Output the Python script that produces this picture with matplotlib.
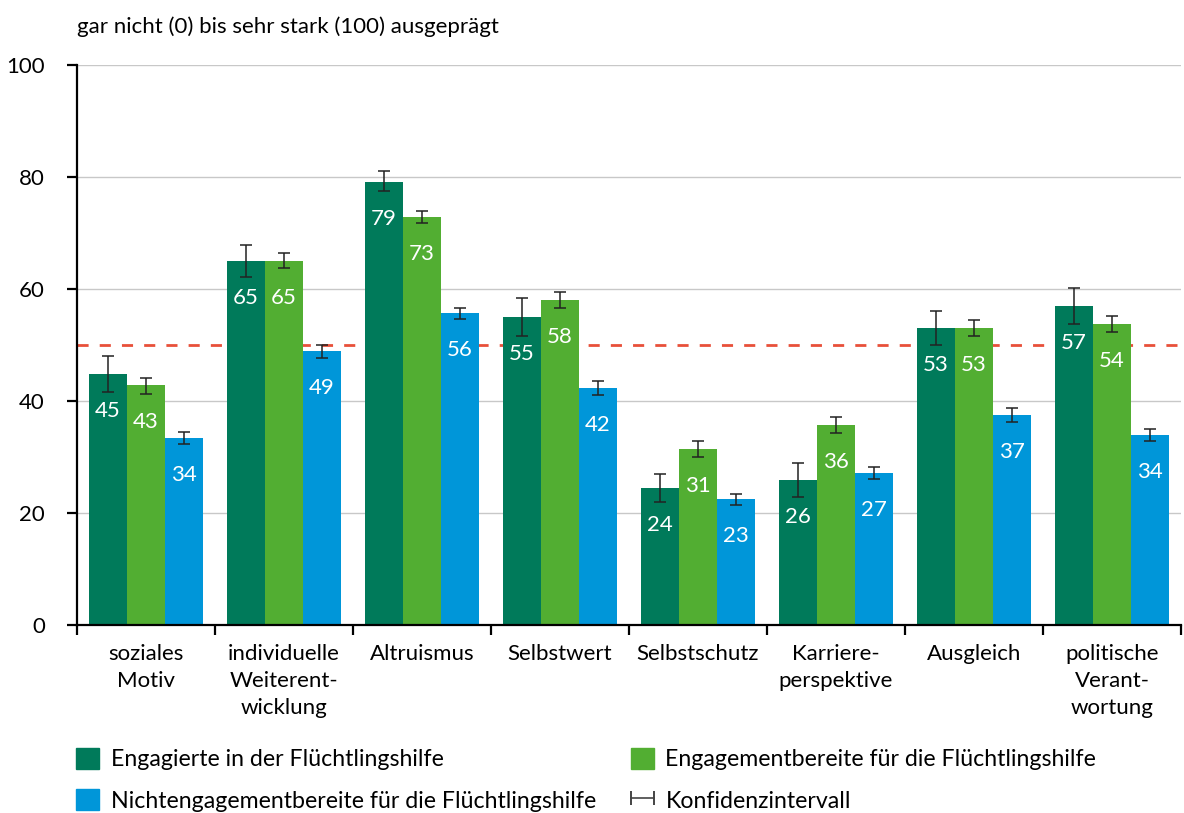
import numpy as np
import matplotlib
matplotlib.use("Agg")
import matplotlib.pyplot as plt
from matplotlib.patches import Patch
from matplotlib.lines import Line2D
from matplotlib.legend_handler import HandlerLine2D

plt.rcParams['font.family'] = ['Lato', 'DejaVu Sans']

categories = ["soziales\nMotiv", "individuelle\nWeiterent-\nwicklung", "Altruismus",
              "Selbstwert", "Selbstschutz", "Karriere-\nperspektive", "Ausgleich",
              "politische\nVerant-\nwortung"]

engagiert = [44.8, 65.0, 79.1, 55.0, 24.5, 25.9, 53.0, 57.0]
engagiert_lo = [41.6, 62.1, 77.5, 51.6, 22.0, 22.9, 50.0, 53.8]
engagiert_hi = [48.0, 67.9, 81.1, 58.4, 27.0, 28.9, 56.1, 60.2]
engagiert_lbl = [45, 65, 79, 55, 24, 26, 53, 57]

bereit = [42.9, 65.0, 72.9, 58.0, 31.4, 35.7, 53.0, 53.8]
bereit_lo = [41.3, 63.8, 71.8, 56.6, 30.0, 34.3, 51.6, 52.3]
bereit_hi = [44.1, 66.4, 73.9, 59.5, 32.9, 37.1, 54.5, 55.2]
bereit_lbl = [43, 65, 73, 58, 31, 36, 53, 54]

nicht = [33.4, 48.9, 55.7, 42.3, 22.5, 27.1, 37.5, 33.9]
nicht_lo = [32.3, 47.7, 54.6, 41.1, 21.4, 26.1, 36.3, 32.9]
nicht_hi = [34.5, 50.0, 56.6, 43.6, 23.4, 28.2, 38.8, 35.0]
nicht_lbl = [34, 49, 56, 42, 23, 27, 37, 34]

series_names = ["Engagierte in der Flüchtlingshilfe",
                "Engagementbereite für die Flüchtlingshilfe",
                "Nichtengagementbereite für die Flüchtlingshilfe"]
colors = ["#007A5A", "#52AE32", "#0096D9"]
reference_line = 50

fig = plt.figure(figsize=(11.84, 8.13), dpi=100)
ax = fig.add_axes([0.065, 0.2312, 0.9325, 0.6888])

x = np.arange(len(categories))
w = 0.275
series = [(engagiert, engagiert_lo, engagiert_hi, engagiert_lbl),
          (bereit, bereit_lo, bereit_hi, bereit_lbl),
          (nicht, nicht_lo, nicht_hi, nicht_lbl)]

for i, (vals, lo, hi, lbl) in enumerate(series):
    xs = x + (i - 1) * w
    vals = np.array(vals)
    yerr = [vals - np.array(lo), np.array(hi) - vals]
    ax.bar(xs, vals, width=w, color=colors[i], zorder=2)
    ax.errorbar(xs, vals, yerr=yerr, fmt='none', ecolor='#222222',
                elinewidth=1.1, capsize=4.3, capthick=1.1, zorder=3)
    for xi, v, t in zip(xs, vals, lbl):
        ax.text(xi, v - 6.6, str(t), ha='center', va='center',
                color='white', fontsize=16, zorder=4)

ax.axhline(reference_line, color='#E8503A', lw=2, ls=(0, (4, 4)), zorder=1)

ax.set_xlim(-0.5, len(categories) - 0.5)
ax.set_ylim(0, 100)
ax.set_yticks([0, 20, 40, 60, 80, 100])
ax.yaxis.grid(True, color='#c8c8c8', lw=1, zorder=0)
ax.set_axisbelow(True)
for s in ['top', 'right']:
    ax.spines[s].set_visible(False)
for s in ['left', 'bottom']:
    ax.spines[s].set_linewidth(1.6)
ax.set_xticks(np.arange(len(categories) + 1) - 0.5)
ax.set_xticklabels([])
ax.set_xticks(x, minor=True)
ax.set_xticklabels(categories, minor=True, fontsize=16, linespacing=1.42)
ax.tick_params(axis='x', which='minor', length=0, pad=14)
ax.tick_params(axis='x', which='major', length=7, width=1.6)
ax.tick_params(axis='y', length=7, width=1.6, labelsize=16, pad=16)

fig.text(0.065, 0.967, "gar nicht (0) bis sehr stark (100) ausgeprägt",
         fontsize=16, ha='left', va='center')

ci_handle = Line2D([0, 1], [0, 0], color='#444444', lw=1.2, marker='|',
                   markersize=10, markeredgewidth=1.4)
handles = [Patch(color=colors[0]), Patch(color=colors[2]),
           Patch(color=colors[1]), ci_handle]
labels = [series_names[0], series_names[2], series_names[1], "Konfidenzintervall"]
fig.legend(handles, labels, ncol=2, loc='lower left', bbox_to_anchor=(0.0464, -0.024),
           frameon=False, fontsize=16.7, numpoints=2, handlelength=1.0,
           handleheight=1.0, handletextpad=0.5, columnspacing=1.5,
           labelspacing=0.82,
           handler_map={ci_handle: HandlerLine2D(marker_pad=0.0, numpoints=2)})

fig.savefig("out.png", dpi=100)
